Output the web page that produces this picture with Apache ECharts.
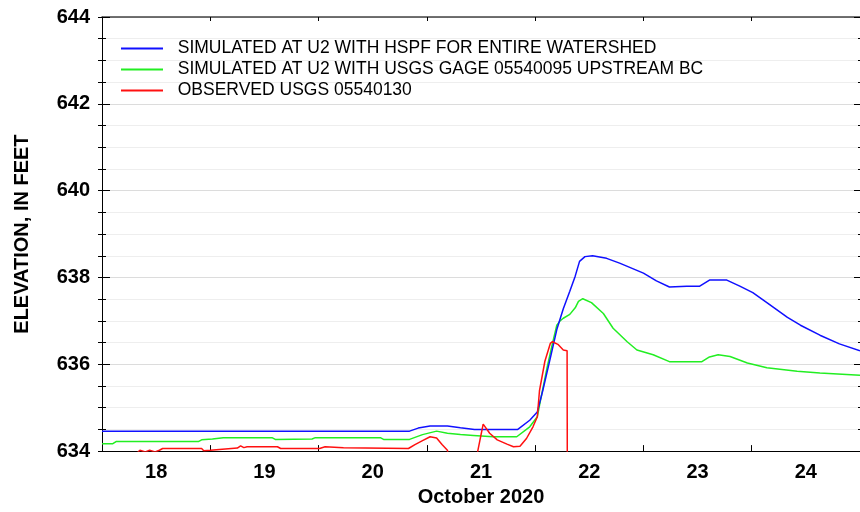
<!DOCTYPE html>
<html>
<head>
<meta charset="utf-8">
<script src="https://cdn.jsdelivr.net/npm/echarts@6/dist/echarts.min.js"></script>
<style>
  html, body { margin: 0; padding: 0; background: #fff; }
  #chart { width: 860px; height: 512px; }
</style>
</head>
<body>
<div id="chart"></div>
<script>
// ---- data (x = day of October 2020, y = elevation in feet) ----
const dayLabels = ['18', '19', '20', '21', '22', '23', '24'];
const seriesNames = [
  'SIMULATED AT U2 WITH HSPF FOR ENTIRE WATERSHED',
  'SIMULATED AT U2 WITH USGS GAGE 05540095 UPSTREAM BC',
  'OBSERVED USGS 05540130'
];
const simHspf = [
  [18.00, 634.46], [20.84, 634.46], [20.92, 634.53], [21.03, 634.58], [21.19, 634.58],
  [21.31, 634.54], [21.44, 634.50], [21.84, 634.50], [21.95, 634.71], [22.02, 634.90],
  [22.07, 635.39], [22.14, 636.14], [22.20, 636.80], [22.26, 637.28], [22.32, 637.68],
  [22.37, 638.03], [22.41, 638.37], [22.46, 638.48], [22.53, 638.50], [22.66, 638.44],
  [22.78, 638.33], [23.00, 638.10], [23.12, 637.92], [23.24, 637.78], [23.40, 637.80],
  [23.52, 637.80], [23.61, 637.94], [23.77, 637.94], [23.89, 637.80], [24.01, 637.65],
  [24.14, 637.42], [24.33, 637.08], [24.45, 636.90], [24.63, 636.67], [24.81, 636.47],
  [25.00, 636.31]
];
const simGage = [
  [18.00, 634.17], [18.10, 634.17], [18.13, 634.22], [18.89, 634.22], [18.92, 634.26],
  [19.02, 634.28], [19.12, 634.31], [19.57, 634.31], [19.60, 634.27], [19.94, 634.28],
  [19.97, 634.31], [20.57, 634.31], [20.60, 634.27], [20.84, 634.27], [20.96, 634.38],
  [21.09, 634.46], [21.19, 634.41], [21.31, 634.38], [21.43, 634.36], [21.61, 634.33],
  [21.83, 634.33], [21.95, 634.56], [22.02, 634.79], [22.04, 635.05], [22.11, 635.92],
  [22.16, 636.48], [22.20, 636.90], [22.23, 637.00], [22.26, 637.06], [22.32, 637.15],
  [22.37, 637.30], [22.40, 637.45], [22.44, 637.51], [22.52, 637.42], [22.63, 637.17],
  [22.72, 636.83], [22.85, 636.52], [22.94, 636.33], [23.09, 636.22], [23.24, 636.06],
  [23.54, 636.06], [23.61, 636.17], [23.69, 636.22], [23.80, 636.18], [23.96, 636.03],
  [24.14, 635.92], [24.42, 635.84], [24.63, 635.80], [25.00, 635.75]
];
const observed = [
  [18.00, 633.90], [18.33, 633.97], [18.35, 634.02], [18.40, 633.98], [18.44, 634.02],
  [18.49, 633.98], [18.53, 634.02], [18.56, 634.06], [18.92, 634.06], [18.94, 634.01],
  [19.00, 634.02], [19.01, 634.06], [19.25, 634.07], [19.28, 634.12], [19.31, 634.08],
  [19.34, 634.10], [19.62, 634.10], [19.65, 634.06], [20.01, 634.06], [20.06, 634.10],
  [20.23, 634.08], [20.83, 634.06], [20.89, 634.15], [20.96, 634.24], [21.03, 634.33],
  [21.09, 634.30], [21.14, 634.15], [21.19, 634.02], [21.22, 633.50], [21.46, 633.50],
  [21.47, 634.00], [21.52, 634.62], [21.58, 634.41], [21.65, 634.26], [21.74, 634.16],
  [21.80, 634.10], [21.86, 634.11], [21.92, 634.29], [21.98, 634.56], [22.02, 634.79],
  [22.04, 635.39], [22.09, 636.07], [22.14, 636.48], [22.16, 636.52], [22.21, 636.46],
  [22.26, 636.33], [22.295, 636.31], [22.30, 630.00]
];

// ---- chart ----
const FONT = '"Liberation Sans", Arial, sans-serif';
const chart = echarts.init(document.getElementById('chart'), null, { renderer: 'canvas' });

const yCommon = { type: 'value', min: 634, max: 644, interval: 2 };
const xCommon = { type: 'value', min: 18, max: 25, interval: 1 };

chart.setOption({
  animation: false,
  backgroundColor: '#ffffff',
  grid: { left: 102, right: 0, top: 17, bottom: 54, containLabel: false },
  legend: {
    orient: 'vertical',
    left: 116,
    top: 33,
    itemWidth: 42,
    itemHeight: 2,
    itemGap: 0,
    icon: 'rect',
    data: seriesNames,
    formatter: n => '  ' + n,
    textStyle: { fontFamily: FONT, fontSize: 17.5, color: '#000', lineHeight: 21 }
  },
  xAxis: [
    Object.assign({}, xCommon, {
      position: 'bottom',
      axisLine: { show: true, lineStyle: { color: '#000', width: 1 } },
      axisTick: { show: true, inside: true, length: 6, lineStyle: { color: '#000' } },
      axisLabel: { show: false },
      splitLine: { show: false }
    }),
    Object.assign({}, xCommon, {
      position: 'top',
      axisLine: { show: true, lineStyle: { color: '#444', width: 1.5 } },
      axisTick: { show: true, inside: true, length: 4, lineStyle: { color: '#000' } },
      axisLabel: { show: false },
      splitLine: { show: false }
    }),
    {
      type: 'category',
      position: 'bottom',
      data: dayLabels,
      boundaryGap: true,
      axisLine: { show: false },
      axisTick: { show: false },
      axisLabel: { margin: 11, fontFamily: FONT, fontSize: 20, fontWeight: 'bold', color: '#000' },
      name: 'October 2020',
      nameLocation: 'middle',
      nameGap: 35,
      nameTextStyle: { fontFamily: FONT, fontSize: 20, fontWeight: 'bold', color: '#000' }
    }
  ],
  yAxis: [
    Object.assign({}, yCommon, {
      position: 'left',
      name: 'ELEVATION, IN FEET',
      nameLocation: 'middle',
      nameGap: 70,
      nameTextStyle: { fontFamily: FONT, fontSize: 20, fontWeight: 'bold', color: '#000' },
      axisLine: { show: true, lineStyle: { color: '#000', width: 1 } },
      axisTick: { show: true, inside: true, length: 8, lineStyle: { color: '#000' } },
      minorTick: { show: true, splitNumber: 4, length: 4, lineStyle: { color: '#000' } },
      axisLabel: { margin: 12, fontFamily: FONT, fontSize: 20, fontWeight: 'bold', color: '#000' },
      splitLine: { show: true, lineStyle: { color: '#dcdcdc', width: 1 } },
      minorSplitLine: { show: true, lineStyle: { color: '#eeeeee', width: 1 } }
    }),
    Object.assign({}, yCommon, {
      position: 'left',
      axisLine: { show: false },
      axisTick: { show: true, inside: false, length: 4, lineStyle: { color: '#000' } },
      minorTick: { show: true, splitNumber: 4, length: 4, lineStyle: { color: '#000' } },
      axisLabel: { show: false },
      splitLine: { show: false }
    }),
    Object.assign({}, yCommon, {
      position: 'right',
      axisLine: { show: false },
      axisTick: { show: true, inside: true, length: 6, lineStyle: { color: '#000' } },
      minorTick: { show: true, splitNumber: 4, length: 2, lineStyle: { color: '#000' } },
      axisLabel: { show: false },
      splitLine: { show: false }
    })
  ],
  series: [
    {
      name: seriesNames[0], type: 'line', data: simHspf, xAxisIndex: 0, yAxisIndex: 0,
      showSymbol: false, clip: true, z: 3,
      itemStyle: { color: '#1010ff' }, lineStyle: { color: '#1010ff', width: 1.5 }
    },
    {
      name: seriesNames[1], type: 'line', data: simGage, xAxisIndex: 0, yAxisIndex: 0,
      showSymbol: false, clip: true, z: 2,
      itemStyle: { color: '#22ee22' }, lineStyle: { color: '#22ee22', width: 1.5 }
    },
    {
      name: seriesNames[2], type: 'line', data: observed, xAxisIndex: 0, yAxisIndex: 0,
      showSymbol: false, clip: true, z: 4,
      itemStyle: { color: '#ff1010' }, lineStyle: { color: '#ff1010', width: 1.5 }
    }
  ]
});
</script>
</body>
</html>
